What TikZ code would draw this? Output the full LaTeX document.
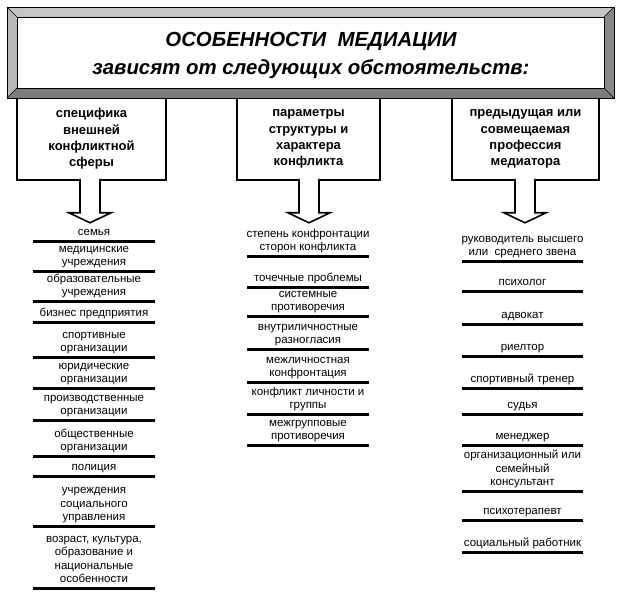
\documentclass[tikz,border=0pt]{standalone}
\usepackage{fontspec}
\setmainfont{Liberation Sans}
\definecolor{bevellight}{HTML}{C6C6C6}
\definecolor{bevelleft}{HTML}{B9B9B9}
\definecolor{beveldark}{HTML}{7C7C7C}
\definecolor{bevelright}{HTML}{898989}
\tikzset{
  banner/.style = {draw, thin, fill=white, minimum width=587, minimum height=71, inner sep=0pt},
  titletext/.style = {font=\fontsize{20.4}{24}\selectfont\bfseries\itshape, inner sep=0pt},
  catbox/.style = {draw, line width=1.6pt, fill=white, minimum width=149, minimum height=82,
    align=center, font=\fontsize{13}{16.3}\selectfont\bfseries},
  item/.style = {align=center, inner sep=0pt, text depth=0pt, anchor=south,
    font=\fontsize{11.5}{13.5}\selectfont},
  itemline/.style = {line width=3pt},
  blockarrow/.style = {line width=1.6pt, line join=miter}
}
\newcommand{\downarrowfrom}[1]{
  \fill[white] (#1) ++(-10,-2) -- ++(0,34) -- ++(-11,0) -- ++(21,10) -- ++(21,-10) -- ++(-11,0) -- ++(0,-34) -- cycle;
  \draw[blockarrow] (#1) ++(-10,-2) -- ++(0,34) -- ++(-11,0) -- ++(21,10) -- ++(21,-10) -- ++(-11,0) -- ++(0,-34);
}

\begin{document}
\begin{tikzpicture}[x=1pt,y=-1pt]
  \useasboundingbox (0,0) rectangle (630,609);

  \node[catbox] (sphere) at (91.5,139) {специфика\\внешней\\конфликтной\\сферы};
  \node[catbox, minimum width=143] (params) at (308.5,139) {параметры\\структуры и\\характера\\конфликта};
  \node[catbox, minimum width=147] (profession) at (525.5,139) {предыдущая или\\совмещаемая\\профессия\\медиатора};

  \coordinate (outer-nw) at (7,7);
  \coordinate (outer-ne) at (614,7);
  \coordinate (outer-se) at (614,98);
  \coordinate (outer-sw) at (7,98);
  \node[banner] (banner) at (310.5,52.5) {};
  \fill[bevellight] (outer-nw) -- (outer-ne) -- (banner.north east) -- (banner.north west) -- cycle;
  \fill[bevelleft] (outer-nw) -- (banner.north west) -- (banner.south west) -- (outer-sw) -- cycle;
  \fill[beveldark] (outer-sw) -- (banner.south west) -- (banner.south east) -- (outer-se) -- cycle;
  \fill[bevelright] (outer-ne) -- (outer-se) -- (banner.south east) -- (banner.north east) -- cycle;
  \draw[thin] (outer-nw) rectangle (outer-se);
  \draw[thin] (banner.north west) rectangle (banner.south east);
  \draw[thin] (outer-nw) -- (banner.north west) (outer-ne) -- (banner.north east)
    (outer-se) -- (banner.south east) (outer-sw) -- (banner.south west);

  \node[titletext, anchor=base] (title) at (311,47) {ОСОБЕННОСТИ\ \ МЕДИАЦИИ};
  \node[titletext, anchor=base] (subtitle) at (311,75) {зависят от следующих обстоятельств:};

  \downarrowfrom{sphere.south -| 90,0}
  \downarrowfrom{params.south -| 309,0}
  \downarrowfrom{profession.south -| 525,0}

  \foreach \txt/\ly [count=\i] in {семья/242, медицинские\\учреждения/272,
      образовательные\\учреждения/302, бизнес предприятия/323, спортивные\\организации/358,
      юридические\\организации/389, производственные\\организации/421,
      общественные\\организации/457, полиция/477, учреждения\\социального\\управления/527,
      {возраст, культура,\\образование и\\национальные\\особенности}/589} {
    \node[item] (sphere-\i) at (94,\ly-6) {\txt};
    \draw[itemline] (33,\ly) -- (155,\ly);
  }

  \foreach \txt/\ly [count=\i] in {степень конфронтации\\сторон конфликта/257,
      точечные проблемы/288, системные\\противоречия/317, внутриличностные\\разногласия/350,
      межличностная\\конфронтация/383, конфликт личности и\\группы/415,
      межгрупповые\\противоречия/446} {
    \node[item] (params-\i) at (308,\ly-6) {\txt};
    \draw[itemline] (247,\ly) -- (369,\ly);
  }

  \foreach \txt/\ly [count=\i] in {руководитель высшего\\или\ \ среднего звена/262,
      психолог/292, адвокат/325, риелтор/357, спортивный тренер/389, судья/415,
      менеджер/446, организационный или\\семейный\\консультант/492,
      психотерапевт/521, социальный работник/553} {
    \node[item] (profession-\i) at (522.5,\ly-6) {\txt};
    \draw[itemline] (462,\ly) -- (583,\ly);
  }
\end{tikzpicture}
\end{document}
